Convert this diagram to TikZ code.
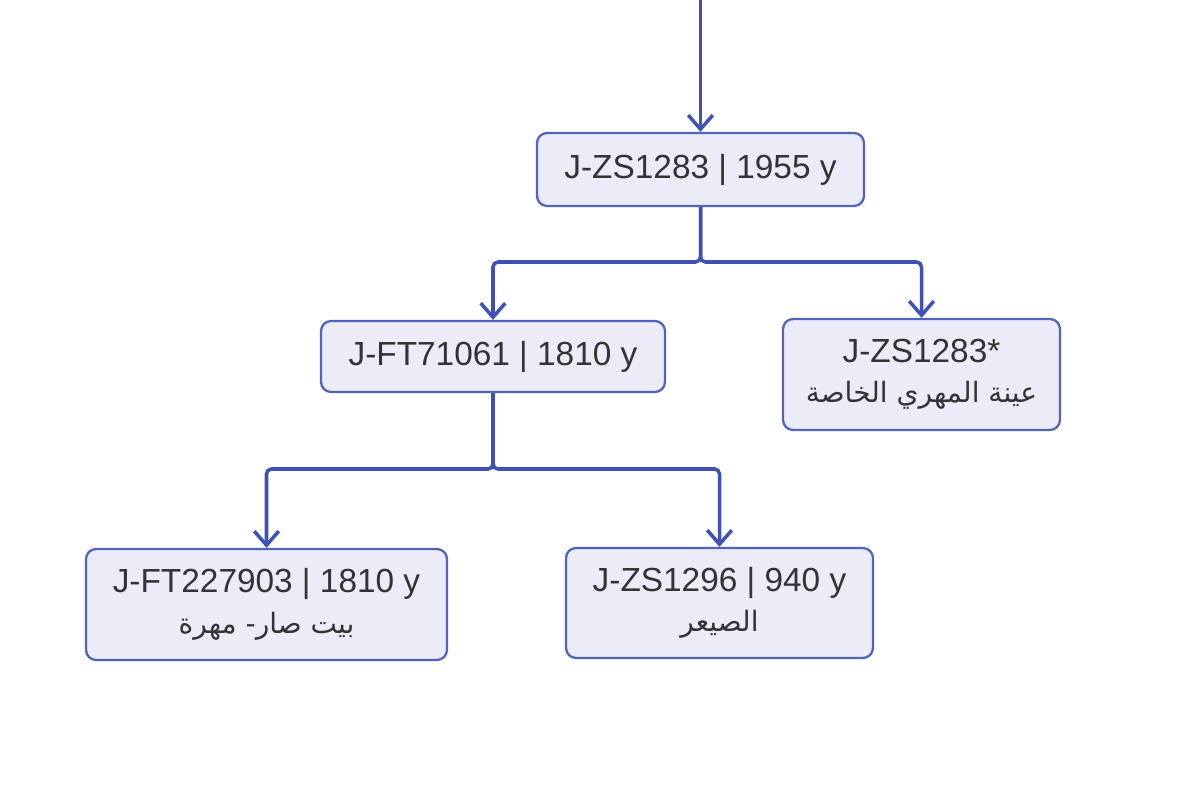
\documentclass[tikz,border=0pt]{standalone}
\usepackage{fontspec}
\setmainfont{Liberation Sans}
\newfontfamily\arabicfont[Script=Arabic,Scale=0.84]{DejaVu Sans}
\TeXXeTstate=1
\usepackage{xcolor}
\usetikzlibrary{arrows.meta,positioning}
\definecolor{linkblue}{HTML}{4051B5}
\definecolor{boxfill}{HTML}{ECECF8}
\definecolor{boxedge}{HTML}{5163BC}
\definecolor{labelgray}{HTML}{333333}

\begin{document}
\begin{tikzpicture}[x=0.02cm,y=-0.02cm,
  hap/.style={draw=boxedge,line width=1.3pt,fill=boxfill,rounded corners=0.2cm,
    align=center,text=labelgray,inner sep=0pt,font=\fontsize{19}{23}\selectfont},
  link/.style={draw=linkblue,line width=2pt,rounded corners=0.1cm,
    -{Straight Barb[length=8pt,width=14pt,line width=2pt]}}]
  \useasboundingbox (0,0) rectangle (1200,804);
  \node[hap,minimum width=6.54cm,minimum height=1.46cm] (zs1283) at (700.5,169.5)
    {J-ZS1283 | 1955 y};
  \node[hap,minimum width=6.88cm,minimum height=1.42cm] (ft71061) at (493,356.5)
    {J-FT71061 | 1810 y};
  \node[hap,minimum width=5.54cm,minimum height=2.22cm] (zs1283s) at (921.5,374.5)
    {J-ZS1283*\\{\arabicfont\beginR عينة المهري الخاصة\endR}};
  \node[hap,minimum width=7.22cm,minimum height=2.22cm] (ft227903) at (266.5,604.5)
    {J-FT227903 | 1810 y\\{\arabicfont\beginR بيت صار- مهرة\endR}};
  \node[hap,minimum width=6.14cm,minimum height=2.2cm] (zs1296) at (719.5,603)
    {J-ZS1296 | 940 y\\{\arabicfont\beginR الصيعر\endR}};
  \coordinate (entry) at (700.5,0);
  \coordinate (fork1) at (700.5,262);
  \coordinate (fork2) at (493,469);
  \draw[link] (entry) -- (zs1283);
  \draw[link] (zs1283.south) -- (fork1) -| (ft71061.north);
  \draw[link] (zs1283.south) -- (fork1) -| (zs1283s.north);
  \draw[link] (ft71061.south) -- (fork2) -| (ft227903.north);
  \draw[link] (ft71061.south) -- (fork2) -| (zs1296.north);
\end{tikzpicture}
\end{document}
